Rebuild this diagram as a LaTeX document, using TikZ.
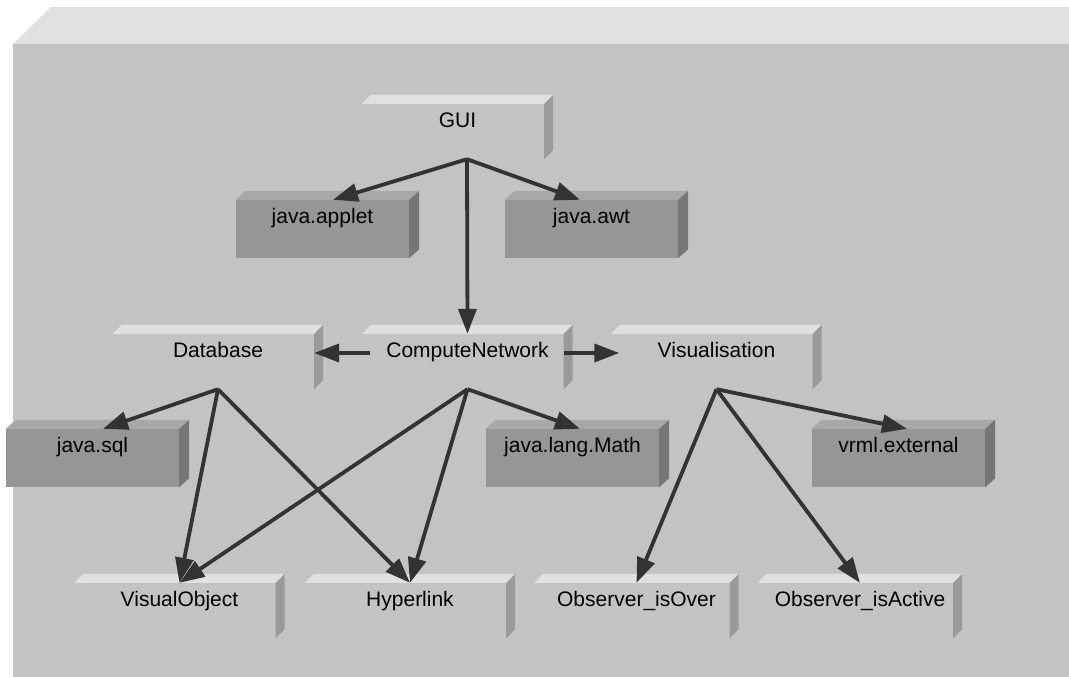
\documentclass[tikz,border=0pt]{standalone}
\usepackage{fontspec}
\setmainfont{Liberation Sans}
\usetikzlibrary{arrows.meta}
\definecolor{bgfront}{HTML}{C3C3C3}
\definecolor{bgtop}{HTML}{E0E0E0}
\definecolor{lightside}{HTML}{9A9A9A}
\definecolor{darkfront}{HTML}{969696}
\definecolor{darktop}{HTML}{A8A8A8}
\definecolor{darkside}{HTML}{767676}
\definecolor{linegray}{HTML}{333333}
\tikzset{
  pkg/.style={rectangle, inner sep=0pt, font=\fontsize{21}{25}\selectfont},
  usedpkg/.style={pkg, minimum width=#1, minimum height=64pt, text height=32.5pt, text depth=31.5pt,
    append after command={\pgfextra{\let\thisnode\tikzlastnode
      \fill[bgtop] ([xshift=9pt]\thisnode.north west) -- (\thisnode.north east)
        -- ([shift={(-9pt,-9pt)}]\thisnode.north east) -- ([yshift=-9pt]\thisnode.north west) -- cycle;
      \fill[lightside] (\thisnode.north east) -- ([yshift=9pt]\thisnode.south east)
        -- ([xshift=-9pt]\thisnode.south east) -- ([shift={(-9pt,-9pt)}]\thisnode.north east) -- cycle;}}},
  usedpkg/.default=210pt,
  libpkg/.style={pkg, fill=darkfront, minimum width=173pt, minimum height=58pt, text height=23.5pt, text depth=34.5pt,
    append after command={\pgfextra{\let\thisnode\tikzlastnode
      \fill[darktop] (\thisnode.north west) -- ([shift={(10pt,9pt)}]\thisnode.north west)
        -- ([shift={(10pt,9pt)}]\thisnode.north east) -- (\thisnode.north east) -- cycle;
      \fill[darkside] (\thisnode.north east) -- ([shift={(10pt,9pt)}]\thisnode.north east)
        -- ([shift={(10pt,9pt)}]\thisnode.south east) -- (\thisnode.south east) -- cycle;}}},
  dep/.style={-{Triangle[length=25pt,width=18pt]}, line width=3.8pt, draw=linegray}
}
\begin{document}
\begin{tikzpicture}[x=1pt, y=-1pt]
      \useasboundingbox (0, 0) rectangle (1069, 677);
      \fill[white] (0, 0) rectangle (1069, 677);
      \fill[bgfront] (13, 44) rectangle (1069, 677);
      \fill[bgtop] (13, 44) -- (51, 7) -- (1069, 7) -- (1069, 44) -- cycle;
      % packages of the applet
      \node[usedpkg=191pt] (GUI) at (457.5, 127) {GUI};
      \node[usedpkg] (DB) at (218, 357) {Database};
      \node[usedpkg] (CN) at (467.5, 357) {ComputeNetwork};
      \node[usedpkg] (Vis) at (716.5, 357) {Visualisation};
      \node[usedpkg] (VO) at (179.5, 606) {VisualObject};
      \node[usedpkg] (HL) at (410, 606) {Hyperlink};
      \node[usedpkg=204pt] (IO) at (636.5, 606) {Observer\_isOver};
      \node[usedpkg=204pt] (IA) at (860, 606) {Observer\_isActive};
      % library packages
      \node[libpkg] (applet) at (322.5, 229) {java.applet};
      \node[libpkg] (awt) at (591.5, 229) {java.awt};
      \node[libpkg] (sql) at (92.5, 458) {java.sql};
      \node[libpkg] (Math) at (572.5, 458) {java.lang.Math};
      \node[libpkg] (vrml) at (898.5, 458) {vrml.external};
      % dependencies
      \draw[dep] ([xshift=9.5pt]GUI.south) to ([xshift=10.5pt]applet.north);
      \draw[dep] ([xshift=9.5pt]GUI.south) to ([xshift=-11.5pt]awt.north);
      \draw[dep] ([xshift=9.5pt]GUI.south) to ([yshift=-9pt]CN.north);
      \draw[dep] ([shift={(8pt,4pt)}]CN.west) to ([shift={(-9pt,4pt)}]DB.east);
      \draw[dep] ([shift={(-9pt,4pt)}]CN.east) to ([shift={(8pt,4pt)}]Vis.west);
      \draw[dep] (DB.south) to ([xshift=10.5pt]sql.north);
      \draw[dep] (DB.south) to ([yshift=-9pt]VO.north);
      \draw[dep] (DB.south) to ([yshift=-9pt]HL.north);
      \draw[dep] (CN.south) to ([yshift=-9pt]VO.north);
      \draw[dep] (CN.south) to ([yshift=-9pt]HL.north);
      \draw[dep] (CN.south) to ([xshift=7.5pt]Math.north);
      \draw[dep] (Vis.south) to ([yshift=-9pt]IO.north);
      \draw[dep] (Vis.south) to ([yshift=-9pt]IA.north);
      \draw[dep] (Vis.south) to ([xshift=8.5pt]vrml.north);
\end{tikzpicture}
\end{document}
